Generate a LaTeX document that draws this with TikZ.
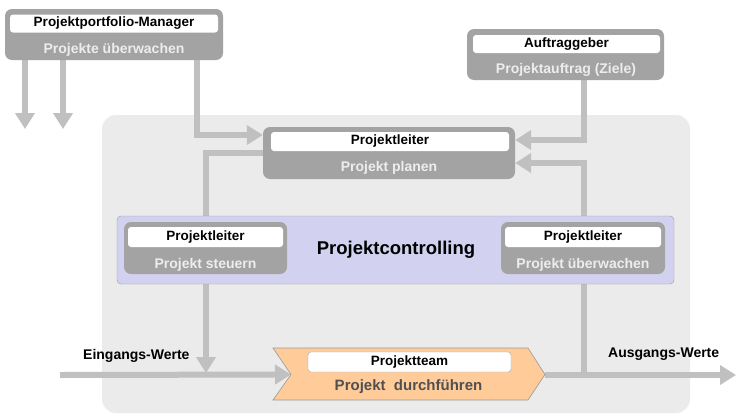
\documentclass[tikz,border=0pt]{standalone}
\usepackage{fontspec}
\setmainfont{Liberation Sans}
\usetikzlibrary{arrows.meta}
\pgfdeclarelayer{back}
\pgfdeclarelayer{lines}
\pgfsetlayers{back,lines,main}
\definecolor{bgc}{HTML}{EBEBEB}
\definecolor{boxgray}{HTML}{A3A3A3}
\definecolor{linegray}{HTML}{C0C0C0}
\definecolor{lighttxt}{HTML}{EDEDED}
\definecolor{lav}{HTML}{D2D2F0}
\definecolor{lavborder}{HTML}{9A9AA8}
\definecolor{orangefill}{HTML}{FFCC99}
\definecolor{darktxt}{HTML}{505050}
\tikzset{
  graybox/.style={draw=none, fill=boxgray, rounded corners=7pt, inner sep=0pt},
  whitebox/.style={fill=white, rounded corners=3pt, inner sep=0pt, font=\bfseries\fontsize{13.5}{15}\selectfont},
  graytext/.style={text=lighttxt, inner sep=0pt, font=\bfseries\fontsize{14}{16}\selectfont},
  flow/.style={draw=linegray, line width=6pt, -{Triangle[width=19pt,length=16pt]}},
  label/.style={inner sep=0pt, font=\bfseries\fontsize{14}{16}\selectfont}
}
\begin{document}
\begin{tikzpicture}[x=1pt,y=-1pt]
\useasboundingbox (0,0) rectangle (736,418);
% background
\begin{pgfonlayer}{back}
\fill[bgc, rounded corners=14pt] (102,115) rectangle (690,413);
\end{pgfonlayer}

% Projektportfolio-Manager
\node[graybox, minimum width=218pt, minimum height=51pt] (pm) at (114,34.5) {};
\node[whitebox, minimum width=208pt, minimum height=18pt] (pmh) at (114,23.5) {Projektportfolio-Manager};
\node[graytext] (pmt) at (114,50) {Projekte überwachen};

% Auftraggeber
\node[graybox, minimum width=197pt, minimum height=51pt] (ag) at (565.5,54.5) {};
\node[whitebox, minimum width=187pt, minimum height=18pt] (agh) at (566.5,44) {Auftraggeber};
\node[graytext] (agt) at (566,70) {Projektauftrag (Ziele)};

% Projekt planen
\node[graybox, minimum width=252pt, minimum height=52pt] (pp) at (389,153) {};
\node[whitebox, minimum width=238pt, minimum height=19pt] (pph) at (390,141.5) {Projektleiter};
\node[graytext] (ppt) at (389,168) {Projekt planen};

% Projektcontrolling
\node[draw=lavborder, fill=lav, rounded corners=4pt, minimum width=557pt, minimum height=68pt, inner sep=0pt] (pc) at (395.5,250) {};
\node[inner sep=0pt, font=\bfseries\fontsize{18.5}{21}\selectfont] (pct) at (396,250) {Projektcontrolling};

\node[graybox, minimum width=163pt, minimum height=52pt] (ps) at (205.5,248) {};
\node[whitebox, minimum width=155pt, minimum height=20pt] (psh) at (205.5,237) {Projektleiter};
\node[graytext] (pst) at (205.5,265) {Projekt steuern};

\node[graybox, minimum width=164pt, minimum height=52pt] (pu) at (583,248) {};
\node[whitebox, minimum width=156pt, minimum height=20pt] (puh) at (583,237) {Projektleiter};
\node[graytext] (put) at (583,265) {Projekt überwachen};

% Projektteam chevron
\coordinate (tin) at (291,374.5);
\coordinate (tout) at (545,374.5);
\fill[orangefill, draw=gray!80, line width=0.6pt] (273,348) -- (528,348) -- (tout) -- (528,400) -- (273,400) -- (tin) -- cycle;
\node[whitebox, draw=gray!70, line width=0.4pt, minimum width=203pt, minimum height=20pt] (pth) at (409.5,362) {Projektteam};
\node[inner sep=0pt, text=darktxt, font=\bfseries\fontsize{15}{17}\selectfont] (ptt) at (408.5,387) {Projekt\ \ durchführen};

% labels
\node[label, anchor=west] (ein) at (83,356) {Eingangs-Werte};
\node[label, anchor=west] (aus) at (608,354) {Ausgangs-Werte};

% coordinates
\coordinate (d1) at (25,129);
\coordinate (d2) at (63,129);
\coordinate (inS) at (60,375);
\coordinate (outE) at (736,375);
\coordinate (j1) at (206,373);

% connectors
\begin{pgfonlayer}{lines}
\draw[flow] (pm.south -| d1) -- (d1);
\draw[flow] (pm.south -| d2) -- (d2);
\draw[flow] (pm.south -| 197,0) |- (pp.west |- 0,135);
\draw[flow] (ag.south -| 584,0) |- (pp.east |- 0,140);
\draw[flow] (584,375) -- (584,163) -- (pp.east |- 0,163);
\draw[flow] (pp.west |- 0,153) -| (j1);
\draw[flow] (inS) -- (tin);
\draw[flow] (tout |- 0,375) -- (outE);
\end{pgfonlayer}
\end{tikzpicture}
\end{document}
